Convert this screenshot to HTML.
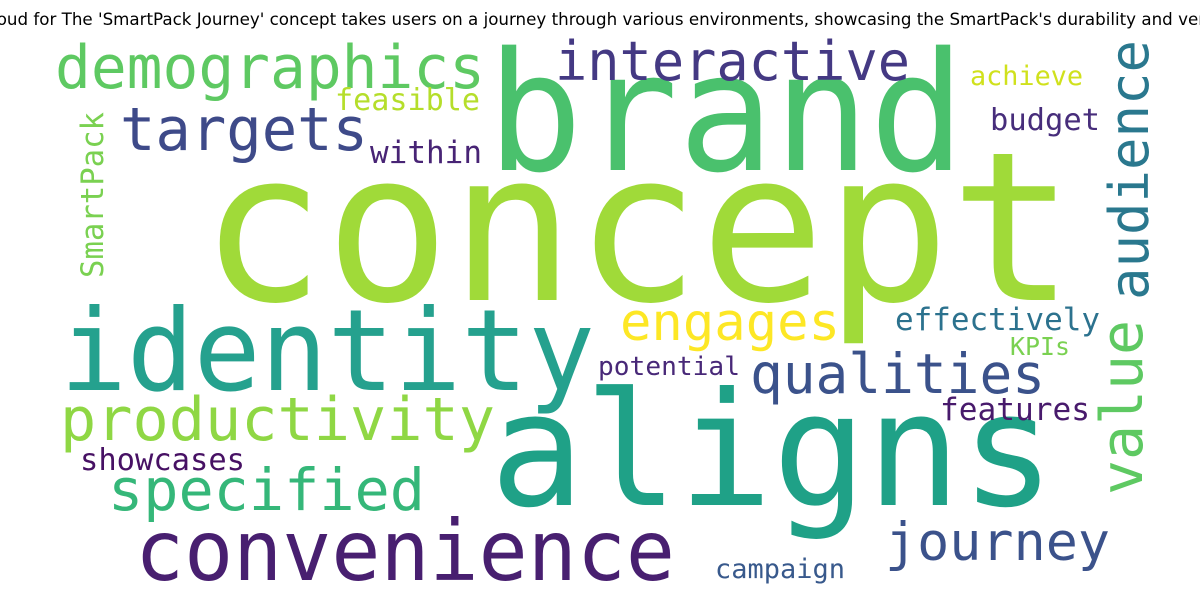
<!DOCTYPE html>
<html><head><meta charset="utf-8"><style>
html,body{margin:0;padding:0;background:#fff;}
svg{display:block;}
text{font-family:"DejaVu Sans Mono","Liberation Mono",monospace;}
.title{font-family:"DejaVu Sans","Liberation Sans",sans-serif;}
</style></head><body>
<svg width="1200" height="600" viewBox="0 0 1200 600">
<rect width="1200" height="600" fill="#fff"/>
<text class="title" x="598" y="25" font-size="16.7" text-anchor="middle" fill="#000">Word Cloud for The 'SmartPack Journey' concept takes users on a journey through various environments, showcasing the SmartPack's durability and versatility.</text>
<g id="words"></g>
</svg>
<script>
const words = ["concept","brand","aligns","identity","convenience","demographics","targets","interactive","feasible","achieve","budget","within","engages","effectively","KPIs","qualities","potential","features","productivity","showcases","specified","journey","campaign","audience","value","SmartPack"];
const colors = ["#a0da39","#4ac16d","#1fa187","#25a18e","#481f70","#5ec962","#3e4a89","#443983","#b5de2b","#d0e11c","#472d7b","#482475","#fde725","#2c728e","#7ad151","#3b528b","#482878","#481a6c","#8fd744","#471164","#35b779","#3b528b","#38598c","#2a788e","#5ec962","#7ad151"];
// layout: [x, y, fontSize, length, rotated]
const layout = [
[200,300,208,875,0],[487,170,165,478,0],[490,505,158,565,0],[60,390,113,535,0],
[135,580,84,540,0],[55,88,60,430,0],[120,150,60,248,0],[555,80,54,355,0],
[335,110,30,145,0],[970,85,27,113,0],[990,130,30,110,0],[370,163,31,112,0],
[620,340,52,220,0],[895,330,31,205,0],[1010,355,25,60,0],[750,393,55,295,0],
[598,375,26,142,0],[940,420,31,150,0],[60,440,60,435,0],[80,470,30,165,0],
[108,510,58,317,0],[885,560,53,225,0],[715,578,27,130,0],
[1148,300,54,260,1],[1142,495,58,175,1],[103,278,31,166,1]];
const g = document.getElementById('words');
words.forEach((w,i)=>{
  const [x,y,fs,len,rot] = layout[i];
  const t = document.createElementNS('http://www.w3.org/2000/svg','text');
  
  
  t.setAttribute('font-size', fs);
  t.setAttribute('fill', colors[i]);
  t.setAttribute('textLength', len);
  t.setAttribute('lengthAdjust', 'spacingAndGlyphs');
  if (rot) { t.setAttribute('transform', 'translate(' + x + ',' + y + ') rotate(-90)'); t.setAttribute('x', 0); t.setAttribute('y', 0); }
  else { t.setAttribute('x', x); t.setAttribute('y', y); }
  t.textContent = w;
  g.appendChild(t);
});
</script>
</body></html>
